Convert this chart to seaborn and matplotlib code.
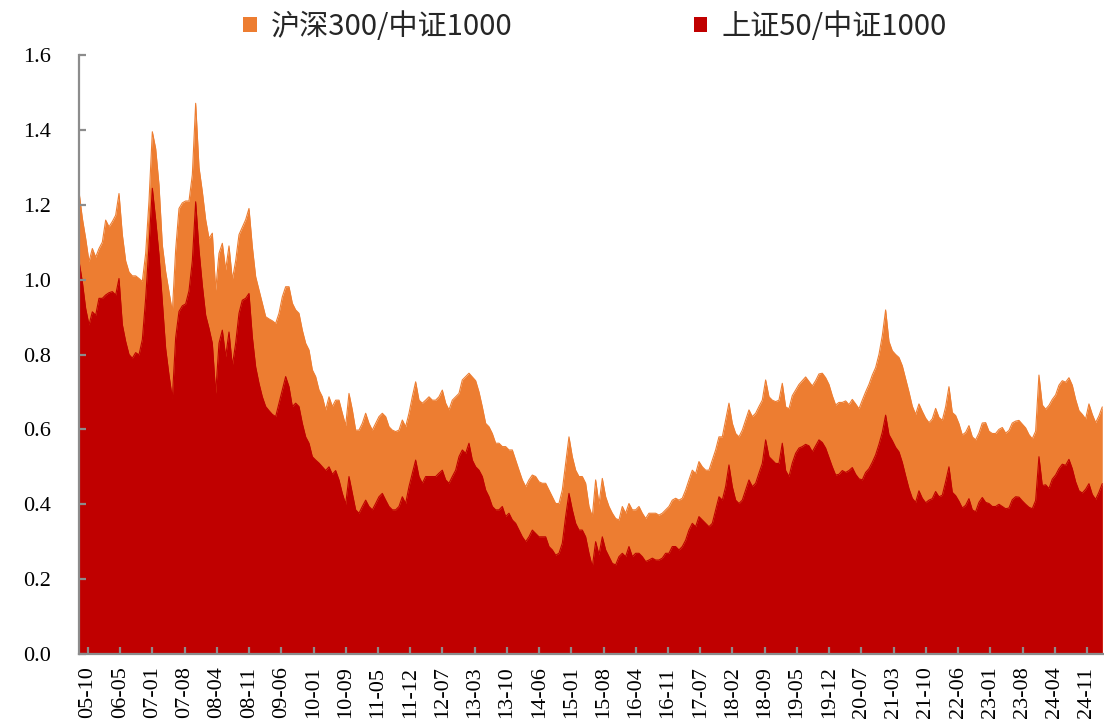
import numpy as np
import pandas as pd
import matplotlib
matplotlib.use("Agg")
import matplotlib.pyplot as plt
import seaborn as sns
from matplotlib.patches import Patch
from matplotlib.font_manager import FontProperties

# ---------------- data ----------------
start_date = "2005-08-13"
end_date = "2025-03-02"

hs300_csi1000 = [
    1.235, 1.164, 1.11, 1.048, 1.083, 1.06, 1.083, 1.10, 1.159, 1.141,
    1.155, 1.172, 1.23, 1.12, 1.05, 1.02, 1.01, 1.01, 1.003, 0.995,
    1.07, 1.21, 1.395, 1.35, 1.253, 1.092, 1.021, 0.968, 0.914, 1.08,
    1.19, 1.205, 1.21, 1.21, 1.28, 1.471, 1.30, 1.235, 1.16, 1.11,
    1.124, 0.972, 1.07, 1.097, 1.026, 1.09, 1.00, 1.05, 1.12, 1.14,
    1.16, 1.19, 1.088, 1.008, 0.972, 0.937, 0.901, 0.895, 0.89, 0.883,
    0.91, 0.954, 0.981, 0.981, 0.937, 0.919, 0.91, 0.865, 0.83, 0.812,
    0.759, 0.741, 0.705, 0.687, 0.652, 0.687, 0.661, 0.678, 0.678, 0.643,
    0.61, 0.696, 0.652, 0.598, 0.598, 0.616, 0.643, 0.616, 0.598, 0.616,
    0.634, 0.643, 0.634, 0.607, 0.598, 0.594, 0.598, 0.625, 0.607, 0.643,
    0.687, 0.727, 0.678, 0.67, 0.678, 0.687, 0.678, 0.678, 0.687, 0.705,
    0.67, 0.652, 0.678, 0.687, 0.696, 0.732, 0.741, 0.75, 0.74, 0.73,
    0.70, 0.66, 0.616, 0.607, 0.589, 0.563, 0.563, 0.554, 0.554, 0.545,
    0.545, 0.518, 0.491, 0.465, 0.447, 0.465, 0.478, 0.474, 0.46, 0.456,
    0.456, 0.438, 0.42, 0.402, 0.402, 0.438, 0.509, 0.58, 0.527, 0.491,
    0.474, 0.474, 0.456, 0.394, 0.367, 0.465, 0.40, 0.469, 0.42, 0.394,
    0.376, 0.362, 0.358, 0.394, 0.376, 0.402, 0.385, 0.385, 0.394, 0.376,
    0.362, 0.376, 0.376, 0.376, 0.371, 0.376, 0.385, 0.394, 0.411, 0.416,
    0.411, 0.416, 0.438, 0.465, 0.491, 0.482, 0.514, 0.50, 0.491, 0.491,
    0.518, 0.545, 0.58, 0.58, 0.625, 0.67, 0.616, 0.589, 0.58, 0.598,
    0.625, 0.652, 0.634, 0.643, 0.661, 0.678, 0.732, 0.687, 0.678, 0.674,
    0.678, 0.723, 0.66, 0.655, 0.69, 0.705, 0.72, 0.73, 0.74, 0.728,
    0.716, 0.73, 0.748, 0.75, 0.738, 0.72, 0.69, 0.665, 0.672, 0.672,
    0.676, 0.666, 0.68, 0.668, 0.655, 0.678, 0.70, 0.72, 0.745, 0.765,
    0.80, 0.85, 0.919, 0.835, 0.81, 0.80, 0.792, 0.77, 0.735, 0.70,
    0.662, 0.64, 0.668, 0.648, 0.63, 0.618, 0.628, 0.656, 0.632, 0.624,
    0.66, 0.714, 0.645, 0.637, 0.615, 0.585, 0.592, 0.61, 0.58, 0.572,
    0.59, 0.617, 0.618, 0.595, 0.589, 0.589, 0.60, 0.605, 0.59, 0.597,
    0.617, 0.622, 0.624, 0.614, 0.604, 0.586, 0.575, 0.595, 0.745, 0.665,
    0.654, 0.664, 0.68, 0.692, 0.718, 0.73, 0.726, 0.738, 0.718, 0.68,
    0.65, 0.64, 0.628, 0.668, 0.64, 0.618, 0.636, 0.66,
]

sz50_csi1000 = [
    1.05, 0.994, 0.923, 0.879, 0.914, 0.905, 0.95, 0.95, 0.959, 0.965,
    0.968, 0.959, 1.003, 0.88, 0.835, 0.80, 0.79, 0.805, 0.799, 0.84,
    0.95, 1.09, 1.244, 1.16, 1.066, 0.941, 0.816, 0.745, 0.683, 0.845,
    0.915, 0.93, 0.935, 0.97, 1.05, 1.208, 1.08, 0.985, 0.905, 0.87,
    0.83, 0.696, 0.83, 0.865, 0.794, 0.86, 0.77, 0.83, 0.91, 0.945,
    0.95, 0.963, 0.847, 0.767, 0.723, 0.687, 0.661, 0.65, 0.64, 0.634,
    0.67, 0.705, 0.741, 0.714, 0.661, 0.67, 0.661, 0.616, 0.58, 0.563,
    0.527, 0.518, 0.51, 0.50, 0.49, 0.50, 0.48, 0.49, 0.465, 0.429,
    0.40, 0.474, 0.429, 0.385, 0.376, 0.394, 0.411, 0.394, 0.385, 0.402,
    0.42, 0.429, 0.411, 0.394, 0.385, 0.385, 0.394, 0.42, 0.402, 0.447,
    0.483, 0.518, 0.474, 0.456, 0.474, 0.474, 0.474, 0.474, 0.483, 0.491,
    0.465, 0.456, 0.474, 0.491, 0.527, 0.545, 0.536, 0.563, 0.518, 0.50,
    0.491, 0.474, 0.438, 0.42, 0.394, 0.385, 0.385, 0.394, 0.367, 0.376,
    0.358, 0.349, 0.331, 0.313, 0.30, 0.313, 0.331, 0.322, 0.313, 0.313,
    0.313, 0.287, 0.278, 0.264, 0.269, 0.296, 0.367, 0.429, 0.385, 0.349,
    0.331, 0.331, 0.313, 0.269, 0.233, 0.30, 0.265, 0.313, 0.278, 0.26,
    0.242, 0.238, 0.26, 0.269, 0.26, 0.287, 0.26, 0.269, 0.269, 0.26,
    0.247, 0.251, 0.256, 0.251, 0.251, 0.256, 0.269, 0.269, 0.287, 0.287,
    0.278, 0.287, 0.304, 0.331, 0.349, 0.34, 0.367, 0.358, 0.349, 0.34,
    0.349, 0.385, 0.42, 0.411, 0.447, 0.505, 0.447, 0.411, 0.402, 0.411,
    0.438, 0.465, 0.447, 0.456, 0.483, 0.509, 0.572, 0.527, 0.518, 0.509,
    0.509, 0.563, 0.49, 0.474, 0.51, 0.536, 0.55, 0.554, 0.56, 0.556,
    0.54, 0.556, 0.572, 0.565, 0.55, 0.525, 0.50, 0.478, 0.48, 0.49,
    0.485, 0.49, 0.498, 0.48, 0.468, 0.465, 0.485, 0.495, 0.512, 0.532,
    0.56, 0.592, 0.638, 0.586, 0.57, 0.552, 0.54, 0.512, 0.476, 0.442,
    0.416, 0.405, 0.436, 0.416, 0.404, 0.411, 0.415, 0.434, 0.42, 0.424,
    0.46, 0.50, 0.432, 0.423, 0.408, 0.39, 0.397, 0.415, 0.385, 0.38,
    0.405, 0.418, 0.405, 0.402, 0.394, 0.394, 0.40, 0.394, 0.388, 0.39,
    0.412, 0.42, 0.419, 0.409, 0.40, 0.392, 0.388, 0.41, 0.527, 0.45,
    0.452, 0.442, 0.467, 0.478, 0.495, 0.507, 0.504, 0.52, 0.495, 0.46,
    0.436, 0.43, 0.44, 0.455, 0.426, 0.413, 0.432, 0.455,
]

tick_labels = [
    "05-10", "06-05", "07-01", "07-08", "08-04", "08-11", "09-06", "10-01",
    "10-09", "11-05", "11-12", "12-07", "13-03", "13-10", "14-06", "15-01",
    "15-08", "16-04", "16-11", "17-07", "18-02", "18-09", "19-05", "19-12",
    "20-07", "21-03", "21-10", "22-06", "23-01", "23-08", "24-04", "24-11",
]
first_tick_date = "2005-10-15"
last_tick_date = "2024-11-15"

series_names = ["沪深300/中证1000", "上证50/中证1000"]
y_ticks = [0.0, 0.2, 0.4, 0.6, 0.8, 1.0, 1.2, 1.4, 1.6]

# ---------------- styling ----------------
ORANGE = "#ED7D31"
RED = "#C00000"
AXIS_GRAY = "#8C8C8C"

dates = pd.date_range(start_date, end_date, periods=len(hs300_csi1000))
df = pd.DataFrame({
    "date": dates,
    "hs300": hs300_csi1000,
    "sz50": sz50_csi1000,
})

sns.set_theme(style="white")
plt.rcParams["font.family"] = ["Liberation Serif", "DejaVu Serif"]

fig = plt.figure(figsize=(11.04, 7.26), dpi=100)
ax = fig.add_axes([79 / 1104, 72 / 726, 1025 / 1104, 599 / 726])

ax.fill_between(df["date"], 0, df["hs300"], color=ORANGE, linewidth=0, zorder=1)
sns.lineplot(data=df, x="date", y="hs300", ax=ax, color=ORANGE, linewidth=0.8, zorder=1.1)
ax.fill_between(df["date"], 0, df["sz50"], color=RED, linewidth=0, zorder=1.2)
sns.lineplot(data=df, x="date", y="sz50", ax=ax, color=RED, linewidth=0.8, zorder=1.3)

ax.set_xlabel("")
ax.set_ylabel("")
ax.set_ylim(0, 1.6)
ax.set_xlim(pd.Timestamp(start_date), pd.Timestamp("2025-03-14"))

tick_pos = pd.date_range(first_tick_date, last_tick_date, periods=len(tick_labels))
ax.set_xticks(tick_pos)
ax.set_xticklabels(tick_labels, rotation=90)
ax.set_yticks(y_ticks)
ax.set_yticklabels([f"{v:.1f}" for v in y_ticks])

for side in ["top", "right"]:
    ax.spines[side].set_visible(False)
for side in ["left", "bottom"]:
    ax.spines[side].set_color(AXIS_GRAY)
    ax.spines[side].set_linewidth(1.6)

ax.set_axisbelow(False)
ax.tick_params(axis="both", which="major", direction="in", length=5, width=1.6,
               color=AXIS_GRAY, labelcolor="black", labelsize=16)
ax.tick_params(axis="x", pad=9)
ax.tick_params(axis="y", pad=20, left=True)
ax.tick_params(axis="x", bottom=True)
ax.grid(False)

handles = [Patch(facecolor=ORANGE, edgecolor="none"), Patch(facecolor=RED, edgecolor="none")]
fig.legend(handles, series_names, loc="center", bbox_to_anchor=(0.539, 0.963), ncol=2,
           frameon=False, prop=FontProperties(family=["Noto Sans CJK SC", "DejaVu Sans"], size=21),
           handlelength=0.45, handleheight=0.45, handletextpad=0.5, columnspacing=6.2)

fig.savefig("out.png", dpi=100)
